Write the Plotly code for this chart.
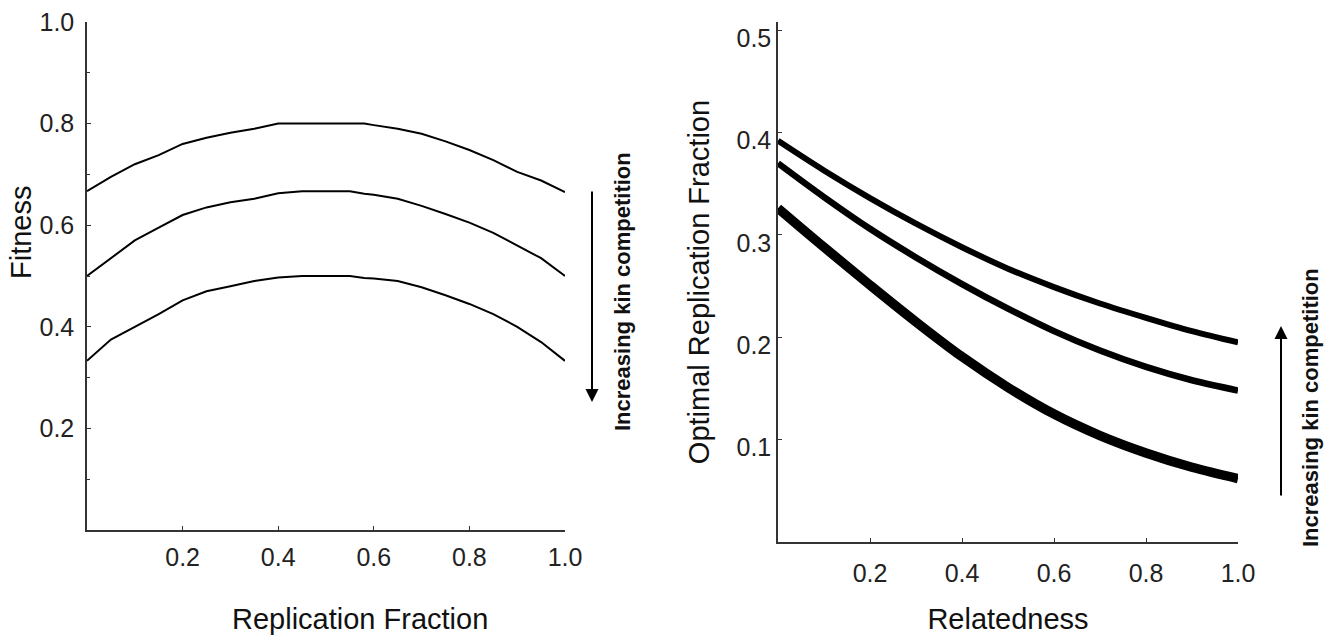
import plotly.graph_objects as go

# ---- Left panel: fitness vs replication fraction ----
rep_frac = [0.00, 0.05, 0.10, 0.15, 0.20, 0.25, 0.30, 0.35, 0.40, 0.45, 0.50,
            0.55, 0.58, 0.60, 0.65, 0.70, 0.75, 0.80, 0.85, 0.90, 0.95, 1.00]
fitness_top = [0.667, 0.695, 0.720, 0.738, 0.760, 0.772, 0.782, 0.790, 0.800, 0.800, 0.800,
               0.800, 0.800, 0.797, 0.790, 0.780, 0.765, 0.748, 0.728, 0.705, 0.688, 0.665]
fitness_mid = [0.500, 0.535, 0.570, 0.595, 0.620, 0.635, 0.645, 0.652, 0.663, 0.667, 0.667,
               0.667, 0.662, 0.660, 0.652, 0.638, 0.622, 0.605, 0.585, 0.560, 0.535, 0.500]
fitness_low = [0.333, 0.375, 0.400, 0.425, 0.452, 0.470, 0.480, 0.490, 0.497, 0.500, 0.500,
               0.500, 0.496, 0.495, 0.490, 0.478, 0.462, 0.445, 0.425, 0.400, 0.370, 0.333]

# ---- Right panel: optimal replication fraction vs relatedness ----
relatedness = [0.0, 0.1, 0.2, 0.3, 0.4, 0.5, 0.6, 0.7, 0.8, 0.9, 1.0]
opt_top = [0.392, 0.363, 0.336, 0.311, 0.288, 0.267, 0.249, 0.233, 0.219, 0.206, 0.195]
opt_mid = [0.370, 0.337, 0.306, 0.278, 0.252, 0.228, 0.206, 0.187, 0.171, 0.158, 0.148]
opt_low = [0.326, 0.288, 0.251, 0.215, 0.181, 0.151, 0.125, 0.104, 0.087, 0.073, 0.062]

left_xticks = [0.2, 0.4, 0.6, 0.8, 1.0]
left_yticks = [0.2, 0.4, 0.6, 0.8, 1.0]
right_xticks = [0.2, 0.4, 0.6, 0.8, 1.0]
right_yticks = [0.1, 0.2, 0.3, 0.4, 0.5]

FONT = "Liberation Sans, Arial, sans-serif"
AX = "#333333"

fig = go.Figure()
for ys in (fitness_top, fitness_mid, fitness_low):
    fig.add_trace(go.Scatter(x=rep_frac, y=ys, mode="lines", xaxis="x", yaxis="y",
                             line=dict(color="black", width=2), showlegend=False))
for ys, w in ((opt_top, 6), (opt_mid, 6.5), (opt_low, 9.5)):
    fig.add_trace(go.Scatter(x=relatedness, y=ys, mode="lines", xaxis="x2", yaxis="y2",
                             line=dict(color="black", width=w, shape="spline", smoothing=1.0),
                             showlegend=False))

W, H = 1329, 635
def px(x):
    return x / W
def py(y):
    return (H - y) / H

common_axis = dict(showline=True, linecolor=AX, linewidth=1.5, showgrid=False, zeroline=False,
                   ticks="inside", ticklen=4, tickcolor=AX, tickfont=dict(size=25, color="#222"),
                   mirror=False, automargin=False)

fig.update_layout(
    width=W, height=H, margin=dict(l=0, r=0, t=0, b=0),
    paper_bgcolor="white", plot_bgcolor="white",
    font=dict(family=FONT, color="#111"),
    xaxis=dict(domain=[px(87), px(565)], range=[0, 1], tickvals=left_xticks,
               ticktext=["0.2", "0.4", "0.6", "0.8", "1.0"], anchor="y", ticklabelstandoff=4,
               **common_axis),
    yaxis=dict(domain=[py(530), py(22)], range=[0, 1], tickvals=left_yticks,
               ticktext=["0.2", "0.4", "0.6", "0.8", "1.0"], anchor="x", ticklabelstandoff=6,
               minor=dict(tickvals=[0.1, 0.3, 0.5, 0.7, 0.9], ticks="inside", ticklen=3, tickcolor=AX),
               **common_axis),
    xaxis2=dict(domain=[px(778), px(1238)], range=[0, 1], tickvals=right_xticks,
                ticktext=["0.2", "0.4", "0.6", "0.8", "1.0"], anchor="y2", ticklabelstandoff=8,
                title=dict(text="Relatedness", font=dict(size=29), standoff=26),
                **common_axis),
    yaxis2=dict(domain=[py(542), py(22)], range=[0, 0.508], tickvals=right_yticks,
                ticktext=["0.1", "0.2", "0.3", "0.4", "0.5"], anchor="x2", ticklabelshift=8,
                title=dict(text="Optimal Replication Fraction", font=dict(size=29), standoff=18),
                **common_axis),
)

ann = dict(xref="paper", yref="paper", xanchor="center", yanchor="middle", showarrow=False)

# left-panel axis titles (offset from axis centre as in the original)
fig.add_annotation(x=px(360), y=py(619), text="Replication Fraction",
                   font=dict(size=29, color="#111"), **ann)
fig.add_annotation(x=px(21), y=py(233), text="Fitness", textangle=-90,
                   font=dict(size=29, color="#111"), **ann)

# rotated side labels
fig.add_annotation(x=px(622), y=py(292), text="<b>Increasing kin competition</b>", textangle=-90,
                   font=dict(size=22, color="#111"), **ann)
fig.add_annotation(x=px(1310), y=py(408), text="<b>Increasing kin competition</b>", textangle=-90,
                   font=dict(size=22, color="#111"), **ann)

# arrows
fig.add_annotation(x=px(592), y=py(402), xref="paper", yref="paper", ax=0, ay=-212, text="",
                   showarrow=True, arrowhead=2, arrowsize=1.3, arrowwidth=2, arrowcolor="black")
fig.add_annotation(x=px(1281), y=py(326), xref="paper", yref="paper", ax=0, ay=171, text="",
                   showarrow=True, arrowhead=2, arrowsize=1.3, arrowwidth=2, arrowcolor="black")

fig.write_html("out.html", config={"displayModeBar": False},
               post_script="document.body.style.margin='0px';document.body.style.padding='0px';")
